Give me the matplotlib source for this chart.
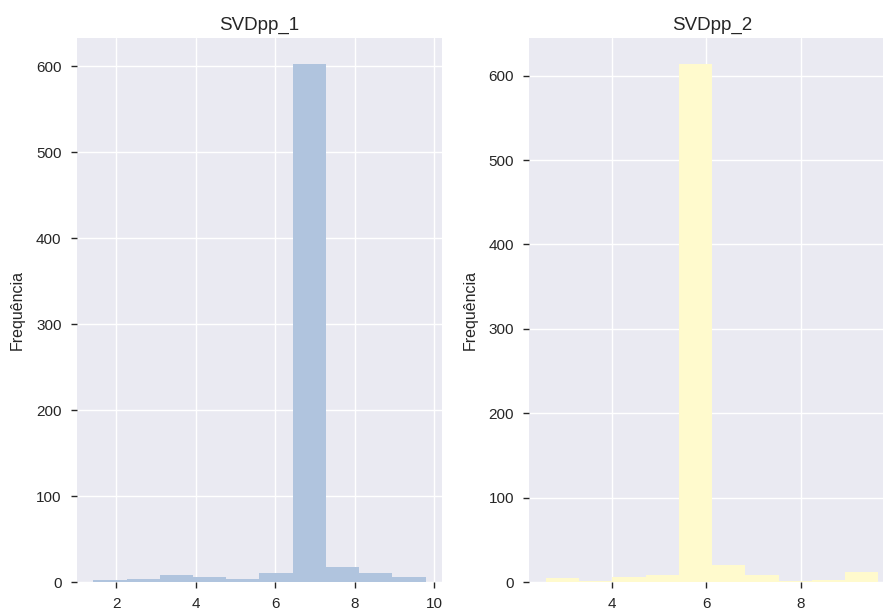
import matplotlib
matplotlib.use("Agg")
import matplotlib.pyplot as plt
from matplotlib.ticker import MultipleLocator

plt.style.use("seaborn-v0_8")
plt.rcParams["font.family"] = ["Liberation Sans", "DejaVu Sans"]

# Histogram bins (edges) and counts for each model's predictions
titles = ["SVDpp_1", "SVDpp_2"]
edges_1 = [1.42, 2.26, 3.09, 3.93, 4.77, 5.60, 6.44, 7.28, 8.12, 8.95, 9.79]
counts_1 = [2, 4, 8, 6, 3, 11, 603, 17, 11, 6]
edges_2 = [2.60, 3.30, 4.01, 4.71, 5.42, 6.12, 6.82, 7.53, 8.23, 8.94, 9.64]
counts_2 = [5, 1, 6, 8, 614, 20, 8, 1, 2, 12]
colors = ["lightsteelblue", "lemonchiffon"]
ylabel = "Frequência"

fig = plt.figure(figsize=(8.83, 6.10), dpi=100)
ax1 = fig.add_axes([0.0869, 0.0459, 0.4141, 0.8918])
ax2 = fig.add_axes([0.5994, 0.0459, 0.4142, 0.8918])

for ax, title, edges, counts, color in zip(
    [ax1, ax2], titles, [edges_1, edges_2], [counts_1, counts_2], colors
):
    ax.hist(edges[:-1], bins=edges, weights=counts, color=color)
    ax.set_title(title, fontsize=13.5, color="#262626")
    ax.set_ylabel(ylabel, fontsize=11.5, color="#262626", labelpad=8)
    ax.xaxis.set_major_locator(MultipleLocator(2))
    ax.tick_params(axis="both", which="major", length=4, width=1,
                   color="#262626", labelsize=11, labelcolor="#262626")

fig.savefig("out.png", dpi=100)
